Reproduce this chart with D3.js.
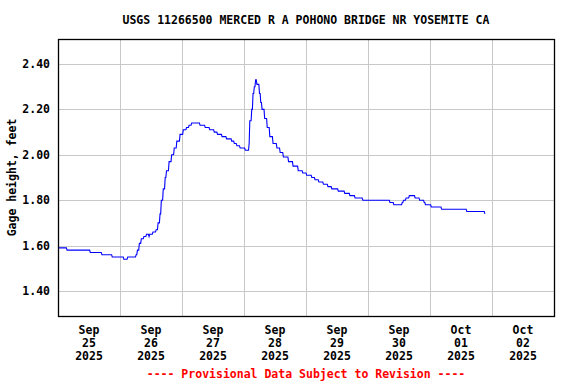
<!DOCTYPE html>
<html>
<head>
<meta charset="utf-8">
<script src="https://cdn.jsdelivr.net/npm/d3@7"></script>
<style>
  body { margin: 0; background: #fff; }
  text { font-family: "DejaVu Sans Mono", "Liberation Mono", monospace; font-weight: bold; font-size: 11.5px; }
</style>
</head>
<body>
<div id="chart"></div>
<script>
// Gage height readings (time the value starts, feet)
const times = [
  "2025-09-25 00:00", "2025-09-25 03:30", "2025-09-25 12:30", "2025-09-25 17:00", "2025-09-25 21:00",
  "2025-09-26 01:30", "2025-09-26 03:00", "2025-09-26 06:15", "2025-09-26 06:45", "2025-09-26 07:30",
  "2025-09-26 08:15", "2025-09-26 09:15", "2025-09-26 10:15", "2025-09-26 11:15", "2025-09-26 11:30",
  "2025-09-26 12:45", "2025-09-26 14:00", "2025-09-26 14:45", "2025-09-26 15:30", "2025-09-26 16:00",
  "2025-09-26 16:45", "2025-09-26 17:30", "2025-09-26 18:00", "2025-09-26 19:00", "2025-09-26 20:00",
  "2025-09-26 21:00", "2025-09-26 22:00", "2025-09-26 23:15", "2025-09-27 00:30", "2025-09-27 01:45",
  "2025-09-27 02:45", "2025-09-27 03:45", "2025-09-27 07:00", "2025-09-27 09:00", "2025-09-27 10:45",
  "2025-09-27 12:30", "2025-09-27 13:45", "2025-09-27 15:30", "2025-09-27 17:15", "2025-09-27 19:15",
  "2025-09-27 20:15", "2025-09-27 21:15", "2025-09-27 22:30", "2025-09-28 00:30", "2025-09-28 02:00",
  "2025-09-28 02:15", "2025-09-28 03:00", "2025-09-28 03:30", "2025-09-28 04:00", "2025-09-28 04:30",
  "2025-09-28 05:00", "2025-09-28 06:00", "2025-09-28 06:30", "2025-09-28 07:00", "2025-09-28 08:00",
  "2025-09-28 09:00", "2025-09-28 10:00", "2025-09-28 11:15", "2025-09-28 12:45", "2025-09-28 14:00",
  "2025-09-28 15:15", "2025-09-28 17:15", "2025-09-28 19:00", "2025-09-28 21:00", "2025-09-28 22:45",
  "2025-09-29 00:15", "2025-09-29 02:15", "2025-09-29 03:30", "2025-09-29 05:00", "2025-09-29 06:45",
  "2025-09-29 08:30", "2025-09-29 10:00", "2025-09-29 12:30", "2025-09-29 15:00", "2025-09-29 17:00",
  "2025-09-29 19:00", "2025-09-29 22:00", "2025-09-30 08:30", "2025-09-30 10:00", "2025-09-30 13:15",
  "2025-09-30 13:45", "2025-09-30 14:45", "2025-09-30 16:00", "2025-09-30 18:15", "2025-09-30 20:00",
  "2025-09-30 21:45", "2025-09-30 22:15", "2025-10-01 00:30", "2025-10-01 04:30", "2025-10-01 14:15",
  "2025-10-01 21:00", "2025-10-01 21:15"
];
const heights = [
  1.59, 1.58, 1.57, 1.56, 1.55,
  1.54, 1.55, 1.56, 1.58, 1.61,
  1.63, 1.64, 1.65, 1.64, 1.65,
  1.66, 1.67, 1.70, 1.74, 1.80,
  1.85, 1.90, 1.93, 1.97, 2.00,
  2.03, 2.06, 2.09, 2.11, 2.12,
  2.13, 2.14, 2.13, 2.12, 2.11,
  2.10, 2.09, 2.08, 2.07, 2.06,
  2.05, 2.04, 2.03, 2.02, 2.05,
  2.15, 2.20, 2.27, 2.30, 2.33,
  2.31, 2.27, 2.23, 2.20, 2.16,
  2.12, 2.08, 2.05, 2.03, 2.01,
  1.99, 1.97, 1.95, 1.93, 1.92,
  1.91, 1.90, 1.89, 1.88, 1.87,
  1.86, 1.85, 1.84, 1.83, 1.82,
  1.81, 1.80, 1.79, 1.78, 1.79,
  1.80, 1.81, 1.82, 1.81, 1.80,
  1.79, 1.78, 1.77, 1.76, 1.75,
  1.75, 1.74
];
const yTicks = [1.40, 1.60, 1.80, 2.00, 2.20, 2.40];
const dayLabels = [
  ["Sep", "25", "2025"], ["Sep", "26", "2025"], ["Sep", "27", "2025"], ["Sep", "28", "2025"],
  ["Sep", "29", "2025"], ["Sep", "30", "2025"], ["Oct", "01", "2025"], ["Oct", "02", "2025"]
];
const title = "USGS 11266500 MERCED R A POHONO BRIDGE NR YOSEMITE CA";
const yLabel = "Gage height, feet";
const footer = "---- Provisional Data Subject to Revision ----";

const W = 576, H = 384;
const margin = { top: 39, right: 22, bottom: 68, left: 58 };
const width = W - margin.left - margin.right;
const height = H - margin.top - margin.bottom;

const parse = d3.timeParse("%Y-%m-%d %H:%M");
const data = times.map((t, i) => ({ t: parse(t), v: heights[i] }));

// each value holds until the reading before the next change (15-min data)
const pts = [];
data.forEach((d, i) => {
  pts.push(d);
  const next = data[i + 1];
  if (next) {
    const last = d3.timeMinute.offset(next.t, -15);
    if (last > d.t) pts.push({ t: last, v: d.v });
  }
});

const start = parse("2025-09-25 00:00");
const end = parse("2025-10-03 00:00");

const svg = d3.select("#chart")
  .append("svg")
  .attr("width", W)
  .attr("height", H);

const g = svg.append("g")
  .attr("transform", `translate(${margin.left},${margin.top})`);

const x = d3.scaleTime().domain([start, end]).range([0, width]);
const y = d3.scaleLinear().domain([1.29, 2.51]).range([height, 0]);

// Grid lines
g.append("g")
  .selectAll("line.hgrid")
  .data(yTicks)
  .enter().append("line")
  .attr("x1", 0).attr("x2", width)
  .attr("y1", d => Math.round(y(d)) + 0.5)
  .attr("y2", d => Math.round(y(d)) + 0.5)
  .attr("stroke", "#c8c8c8");

const dayLines = d3.timeDay.range(d3.timeDay.offset(start, 1), end);
g.append("g")
  .selectAll("line.vgrid")
  .data(dayLines)
  .enter().append("line")
  .attr("x1", d => Math.round(x(d)) + 0.5)
  .attr("x2", d => Math.round(x(d)) + 0.5)
  .attr("y1", 0).attr("y2", height)
  .attr("stroke", "#c8c8c8");

// Y tick labels
g.append("g")
  .selectAll("text")
  .data(yTicks)
  .enter().append("text")
  .attr("x", -8)
  .attr("y", d => y(d))
  .attr("dy", "0.35em")
  .attr("text-anchor", "end")
  .text(d => d3.format(".2f")(d));

// X labels, centered at noon of each day
const noons = d3.timeDay.range(start, end).map(d => d3.timeHour.offset(d, 12));
const xl = g.append("g")
  .selectAll("text")
  .data(noons)
  .enter().append("text")
  .attr("text-anchor", "middle")
  .attr("transform", d => `translate(${x(d)},${height + 18})`);
xl.each(function (d, i) {
  const t = d3.select(this);
  dayLabels[i].forEach((s, j) => {
    t.append("tspan").attr("x", 0).attr("y", j * 13).text(s);
  });
});

// Data line
g.append("path")
  .datum(pts)
  .attr("fill", "none")
  .attr("stroke", "#0000ff")
  .attr("stroke-width", 1.1)
  .attr("d", d3.line()
    .x(d => x(d.t))
    .y(d => y(d.v)));

// Plot border
g.append("rect")
  .attr("x", 0.5).attr("y", 0.5)
  .attr("width", width).attr("height", height)
  .attr("fill", "none")
  .attr("stroke", "#000")
  .attr("stroke-width", 1.3);

// Title, axis label and footer
svg.append("text")
  .attr("x", margin.left + width / 2)
  .attr("y", 24)
  .attr("text-anchor", "middle")
  .text(title);

svg.append("text")
  .attr("transform", `translate(16,${margin.top + height / 2}) rotate(-90)`)
  .attr("text-anchor", "middle")
  .text(yLabel);

svg.append("text")
  .attr("x", margin.left + width / 2)
  .attr("y", 378)
  .attr("text-anchor", "middle")
  .attr("fill", "#ff0000")
  .text(footer);
</script>
</body>
</html>
